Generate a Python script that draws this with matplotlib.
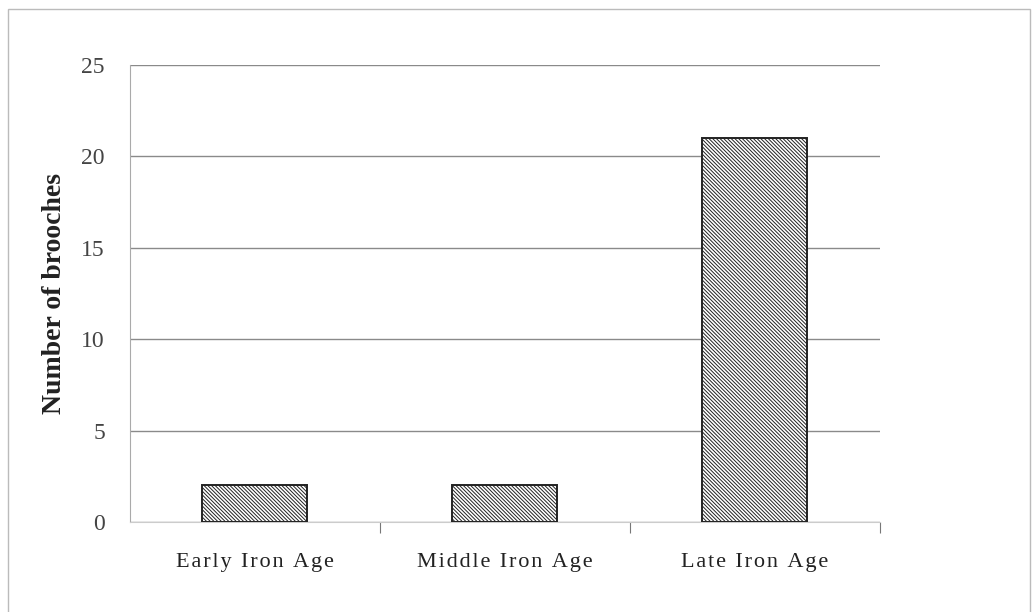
import matplotlib.pyplot as plt
import matplotlib.patches as mpatches
import numpy as np

# data
periods = ["Early Iron Age", "Middle Iron Age", "Late Iron Age"]
brooches = [2, 2, 21]
yticks = [0, 5, 10, 15, 20, 25]

plt.rcParams['font.family'] = ['Liberation Serif', 'DejaVu Serif']
plt.rcParams['hatch.linewidth'] = 0.7

fig = plt.figure(figsize=(10.35, 6.12), dpi=100)
ax = fig.add_axes([0.1256, 0.147, 0.7244, 0.747])

x = np.arange(len(periods))
ax.bar(x, brooches, width=0.42, color='white', edgecolor='#222222',
       linewidth=1.4, hatch='\\' * 9, zorder=3)

ax.set_xlim(-0.5, 2.5)
ax.set_ylim(0, 25)
ax.set_yticks(yticks)
ax.set_yticklabels([str(t) for t in yticks], fontsize=17, color='#444444')
ax.yaxis.grid(True, color='#8a8a8a', linewidth=1.0)
ax.set_axisbelow(True)

# category ticks sit between the bars
ax.set_xticks(x + 0.5)
ax.set_xticklabels([])
ax.tick_params(axis='x', length=8, color='#777777', direction='out')
ax.tick_params(axis='y', length=0, pad=18)

# labels in the scan are spread out, so put a hair space between letters
for xi, lab in zip(x, periods):
    spaced = '\u200a'.join(lab)
    ax.text(xi, -2.2, spaced, ha='center', va='center',
            fontsize=16, color='#222222')

for side in ['top', 'right']:
    ax.spines[side].set_visible(False)
ax.spines['left'].set_color('#aaaaaa')
ax.spines['left'].set_linewidth(0.8)
ax.spines['bottom'].set_color('#cccccc')
ax.spines['bottom'].set_linewidth(0.8)

ax.set_ylabel("Number of brooches", fontsize=20, fontweight='bold',
              color='#222222', labelpad=10)

# faint border of the scanned chart area
fig.patches.append(mpatches.Rectangle((0.008, -0.05), 0.987, 1.035,
                                      transform=fig.transFigure, fill=False,
                                      edgecolor='#bbbbbb', linewidth=1.0))

fig.savefig("out.png", dpi=100, facecolor='white')
